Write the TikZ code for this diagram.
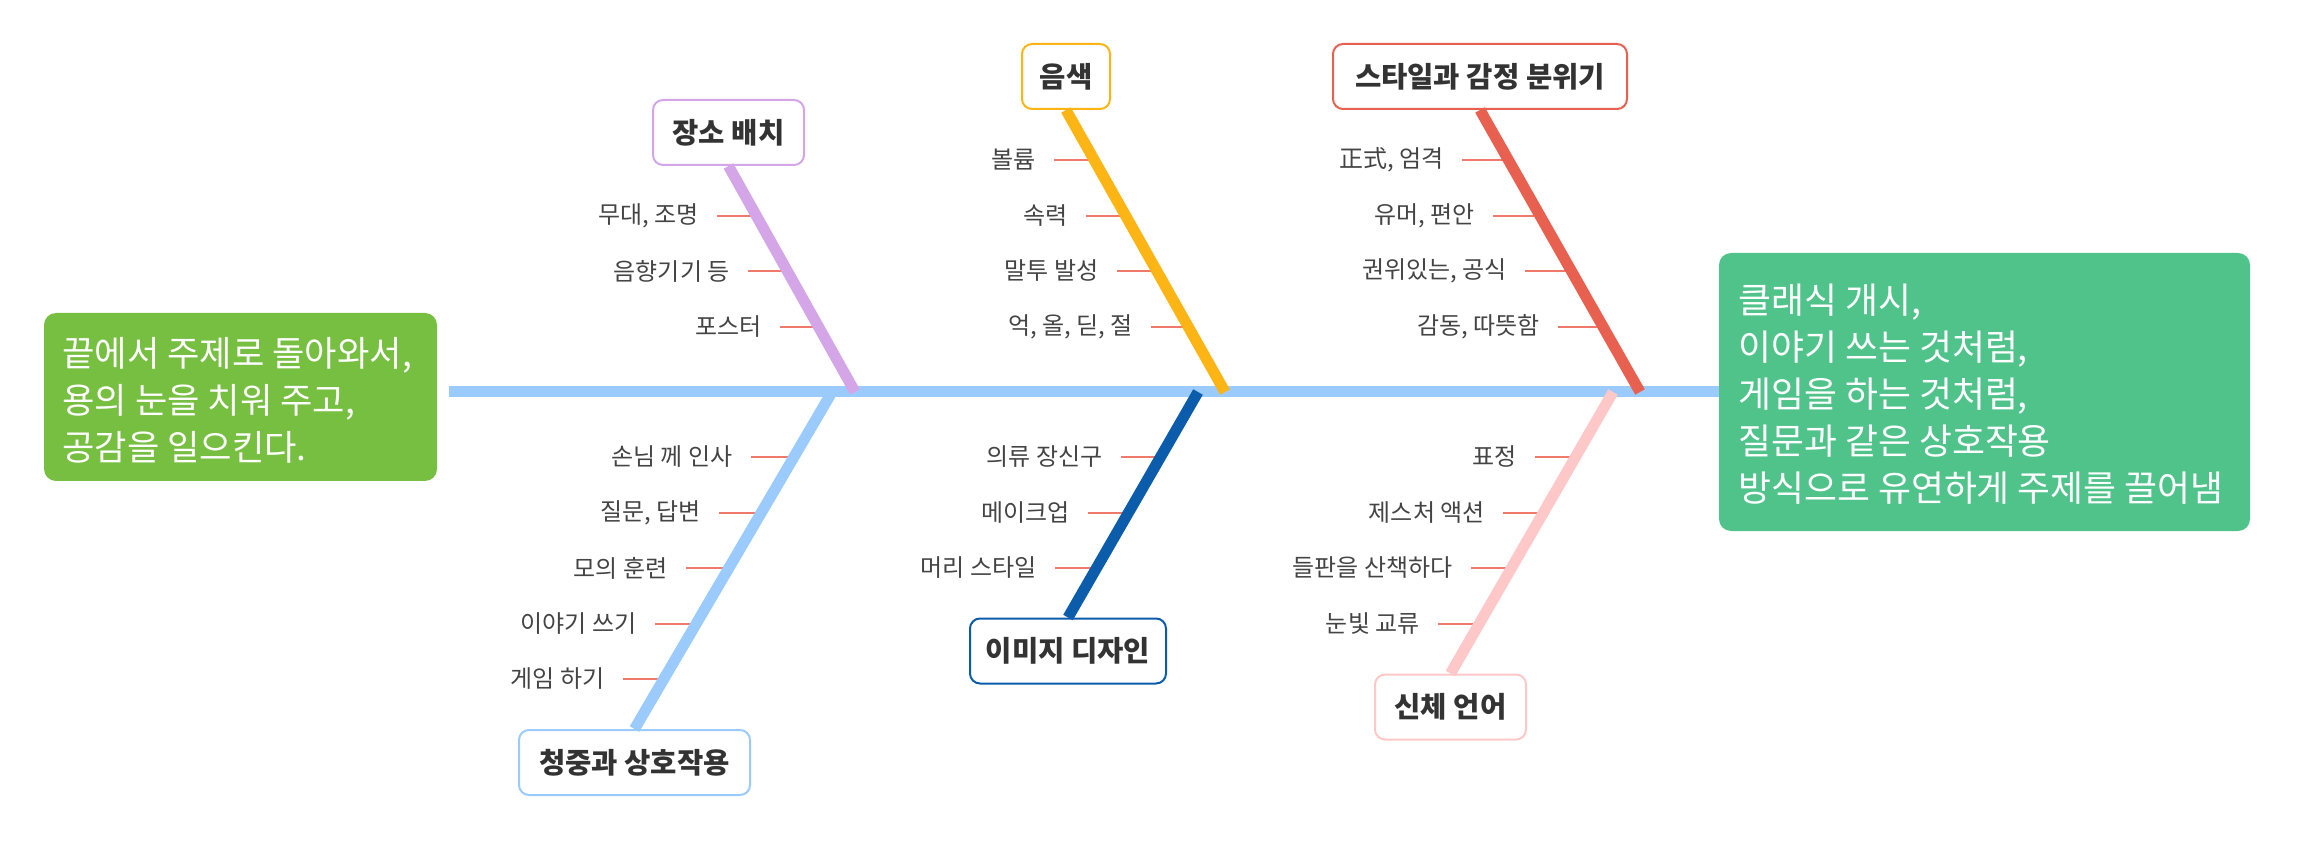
\documentclass[tikz,border=0pt]{standalone}
\usepackage{fontspec}
\setmainfont{Noto Sans CJK KR}
\usetikzlibrary{calc}
\definecolor{spinec}{HTML}{9BCBFC}
\definecolor{purplec}{HTML}{D4A5E7}
\definecolor{yellowc}{HTML}{FDB515}
\definecolor{redc}{HTML}{E8604F}
\definecolor{dbluec}{HTML}{0B5CAB}
\definecolor{pinkc}{HTML}{FFC8C8}
\definecolor{greenL}{HTML}{77BF41}
\definecolor{greenR}{HTML}{50C38B}
\definecolor{tickc}{HTML}{EF7A6C}
\definecolor{subtext}{HTML}{444444}
\definecolor{titletext}{HTML}{333333}
\newcommand\fbsub[4]{%
  \coordinate (#1t) at (#2,#3);
  \node[sub] (#1) at (#2-59,#3) {#4};
  \draw[tick] ([xshift=9pt]#1.east) -- (#1t);}
\begin{document}
\begin{tikzpicture}[x=0.5pt,y=-0.5pt,
  titlebox/.style={draw=#1, line width=1pt, rounded corners=5pt, fill=white,
    font=\fontsize{14.3pt}{16pt}\selectfont\bfseries, text=titletext,
    inner sep=0pt, minimum height=32.5pt},
  bone/.style={draw=#1, line width=5.5pt},
  spine/.style={draw=spinec, line width=5.5pt},
  sub/.style={font=\fontsize{12pt}{14pt}\selectfont, text=subtext, inner sep=0pt, anchor=east},
  tick/.style={draw=tickc, line width=0.9pt},
  bigbox/.style={fill=#1, draw=none, rounded corners=6pt, inner sep=0pt},
  boxtext/.style={text=white, align=left, inner sep=0pt, anchor=west}
]
\useasboundingbox (0,0) rectangle (2297,855);

% main boxes
\node[bigbox=greenL, minimum width=196.5pt, minimum height=84pt] (L) at (240.5,397) {};
\node[boxtext, font=\fontsize{17.6pt}{23.5pt}\selectfont] (Lt) at (62,400)
  {끝에서 주제로 돌아와서,\\용의 눈을 치워 주고,\\공감을 일으킨다.};
\node[bigbox=greenR, minimum width=265.5pt, minimum height=139pt] (R) at (1984.5,392) {};
\node[boxtext, font=\fontsize{17.9pt}{23.5pt}\selectfont] (Rt) at (1738,394)
  {클래식 개시,\\이야기 쓰는 것처럼,\\게임을 하는 것처럼,\\질문과 같은 상호작용\\방식으로 유연하게 주제를 끌어냄};

% spine
\coordinate (s0) at (449,392);
\draw[spine] (s0) -- (R.west);

% spine attachment points
\coordinate (sp1) at (855,392);
\coordinate (sp2) at (1225,392);
\coordinate (sp3) at (1640,392);
\coordinate (sp4) at (832,392);
\coordinate (sp5) at (1198,392);
\coordinate (sp6) at (1613,392);

% sub labels with ticks
\fbsub{a1}{758}{216}{무대, 조명}
\fbsub{a2}{789}{271}{음향기기 등}
\fbsub{a3}{821}{327}{포스터}

\fbsub{b1}{1095}{160}{볼륨}
\fbsub{b2}{1127}{216}{속력}
\fbsub{b3}{1158}{271}{말투 발성}
\fbsub{b4}{1192}{327}{억, 올, 딛, 절}

\fbsub{c1}{1503}{160}{正式, 엄격}
\fbsub{c2}{1534}{216}{유머, 편안}
\fbsub{c3}{1566}{271}{권위있는, 공식}
\fbsub{c4}{1599}{327}{감동, 따뜻함}

\fbsub{d1}{792}{457}{손님 께 인사}
\fbsub{d2}{760}{513}{질문, 답변}
\fbsub{d3}{727}{568}{모의 훈련}
\fbsub{d4}{696}{624}{이야기 쓰기}
\fbsub{d5}{664}{679}{게임 하기}

\fbsub{e1}{1162}{457}{의류 장신구}
\fbsub{e2}{1129}{513}{메이크업}
\fbsub{e3}{1096}{568}{머리 스타일}

\fbsub{f1}{1576}{457}{표정}
\fbsub{f2}{1544}{513}{제스처 액션}
\fbsub{f3}{1512}{568}{들판을 산책하다}
\fbsub{f4}{1479}{624}{눈빛 교류}

% title boxes
\node[titlebox=purplec, minimum width=75.5pt] (T1) at (728.5,132.5) {장소 배치};
\node[titlebox=yellowc, minimum width=44pt] (T2) at (1066,76.5) {음색};
\node[titlebox=redc, minimum width=147pt] (T3) at (1480,76.5) {스타일과 감정 분위기};
\node[titlebox=spinec, minimum width=115.5pt] (T4) at (634.5,762.5) {청중과 상호작용};
\node[titlebox=dbluec, minimum width=98pt] (T5) at (1068,651) {이미지 디자인};
\node[titlebox=pinkc, minimum width=75.5pt] (T6) at (1450.5,707) {신체 언어};

% bones
\draw[bone=purplec] (T1.south) -- (sp1);
\draw[bone=yellowc] (T2.south) -- (sp2);
\draw[bone=redc] (T3.south) -- (sp3);
\draw[bone=spinec] (T4.north) -- (sp4);
\draw[bone=dbluec] (T5.north) -- (sp5);
\draw[bone=pinkc] (T6.north) -- (sp6);
\end{tikzpicture}
\end{document}
